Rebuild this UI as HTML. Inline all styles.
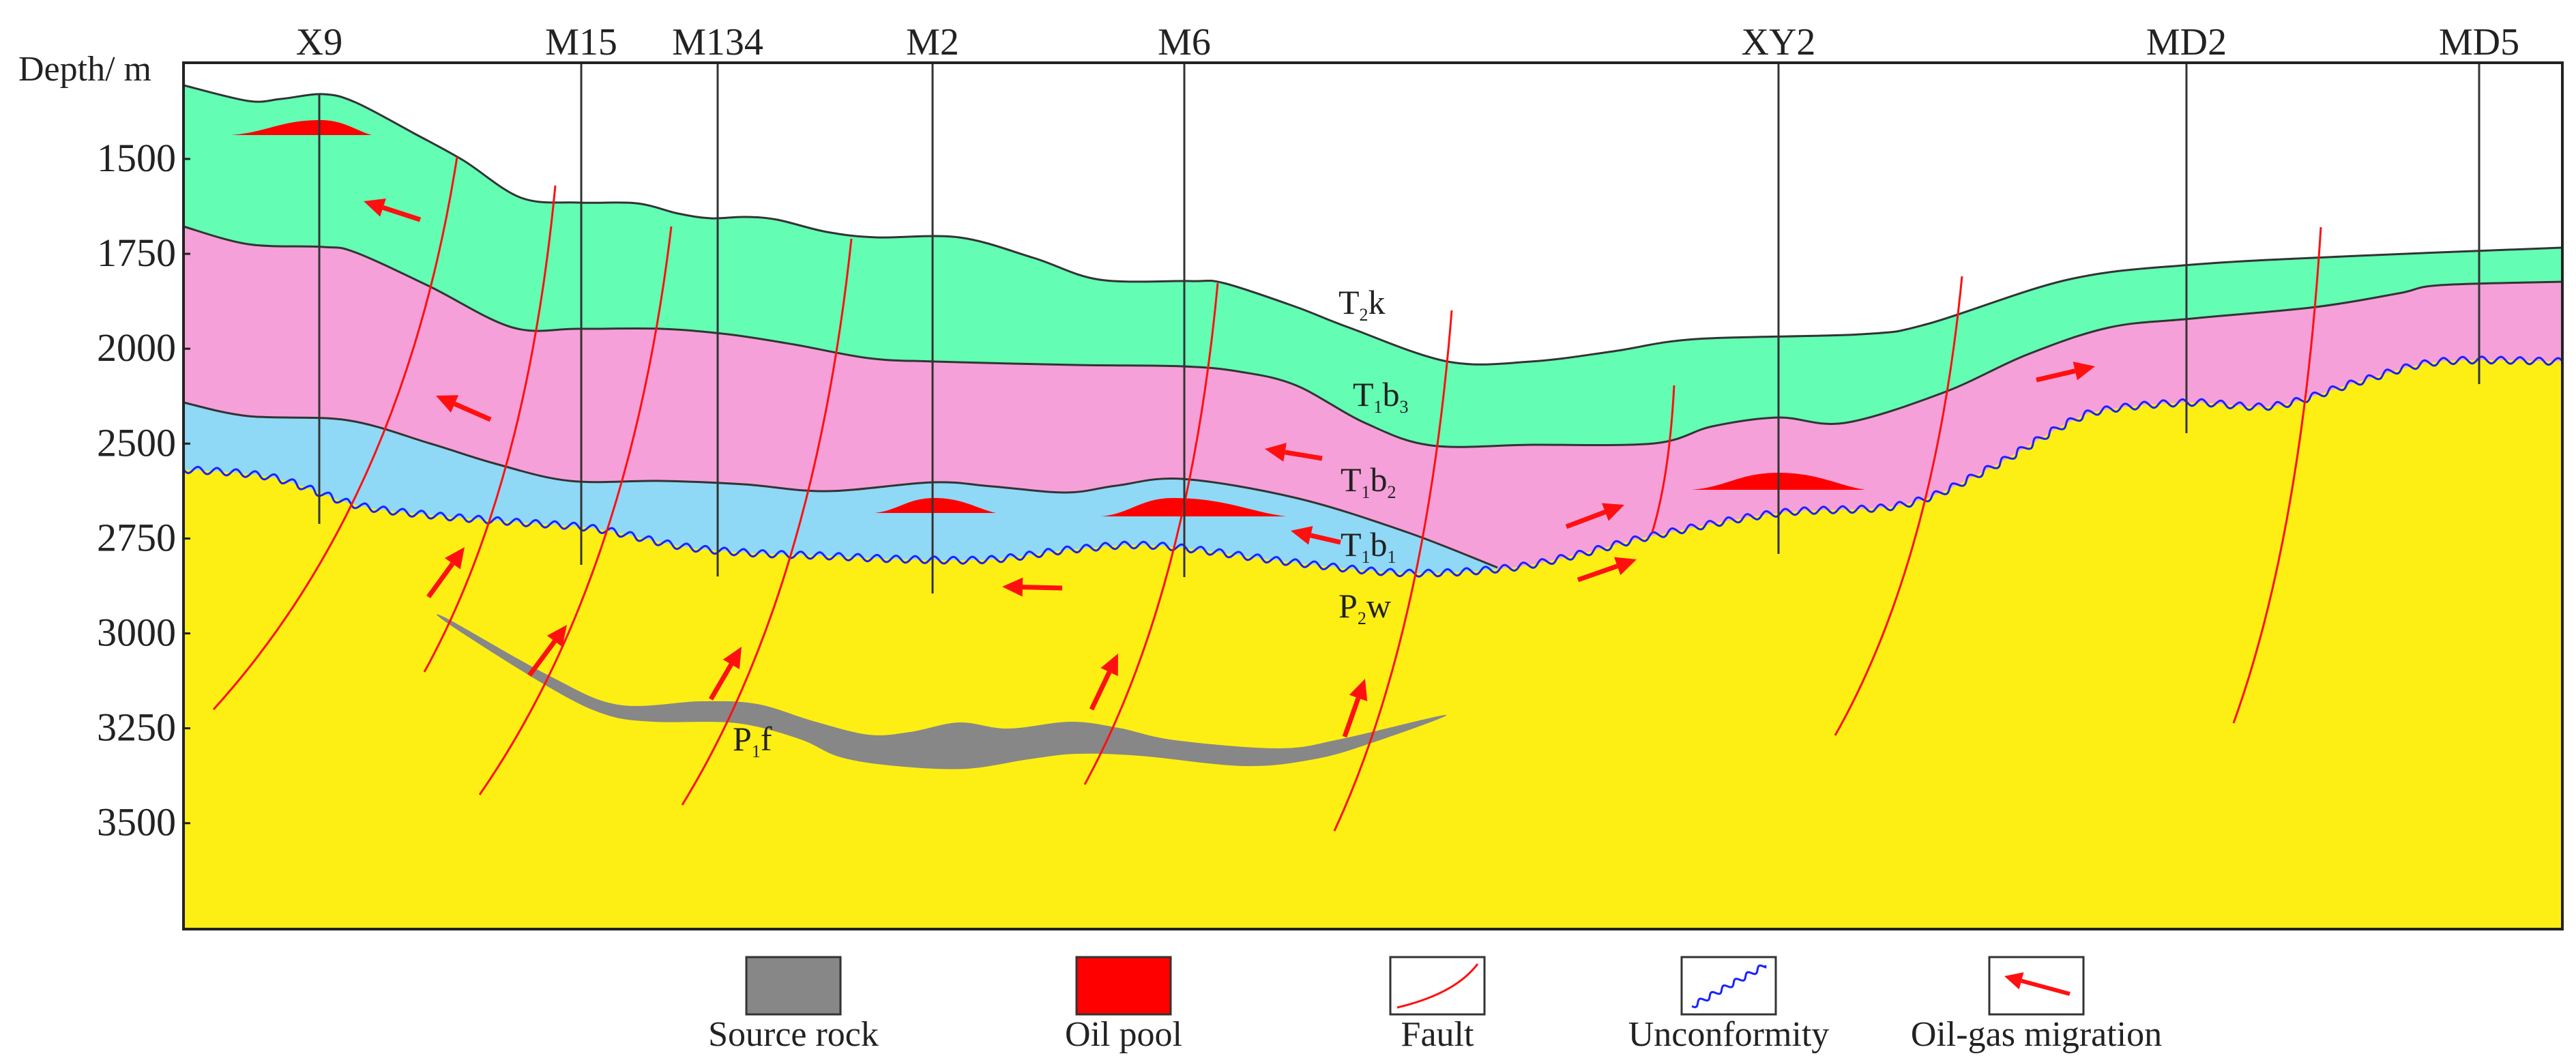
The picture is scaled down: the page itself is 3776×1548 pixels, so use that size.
<!DOCTYPE html>
<html><head><meta charset="utf-8"><style>
html,body{margin:0;padding:0;background:#fff;}
svg{display:block;}
text{font-family:"Liberation Serif",serif;fill:#222;}
</style></head><body>
<svg id="chart" xmlns="http://www.w3.org/2000/svg" width="3776" height="1548" viewBox="0 0 3776 1548">
<g id="layers"></g>
<g id="marks"></g>
<rect x="269" y="92" width="3487" height="1270" fill="none" stroke="#222" stroke-width="4"/>
<g id="axis"></g>
<g id="legend"></g>
</svg>
<script>
const depthTicks = ["1500","1750","2000","2500","2750","3000","3250","3500"];
const wellNames = ["X9","M15","M134","M2","M6","XY2","MD2","MD5"];
const wellPos = [468,852,1052,1367,1736,2607,3205,3634];
const wellBottom = [768,828,845,870,846,812,635,563];
const wellTop = [137,92,92,92,92,92,92,92];
const topSurface = [[269,125],[364,148],[412,145],[473,138],[521,150],[606,195],[679,235],[764,290],[848,297],[933,298],[994,313],[1042,320],[1091,318],[1139,322],[1212,340],[1285,348],[1406,348],[1515,378],[1612,410],[1745,412],[1794,415],[1900,450],[1977,480],[2122,530],[2244,530],[2365,515],[2486,497],[2728,490],[2825,475],[3031,410],[3213,388],[3456,375],[3756,363]];
const t2kBase = [[269,332],[364,358],[473,362],[521,370],[630,420],[751,480],[848,482],[970,482],[1067,490],[1164,505],[1273,525],[1370,530],[1576,535],[1733,537],[1818,545],[1900,565],[2001,620],[2098,653],[2244,652],[2425,650],[2510,625],[2607,612],[2704,620],[2850,575],[2971,520],[3092,480],[3213,467],[3395,450],[3516,430],[3577,418],[3756,413]];
const t1b2Base = [[269,590],[364,610],[509,616],[630,650],[727,680],[836,705],[970,705],[1091,710],[1212,720],[1367,707],[1454,713],[1563,722],[1636,712],[1733,702],[1900,730],[2062,780],[2195,832]];
const unconformity = [[269,688],[400,700],[521,740],[630,755],[751,765],[873,775],[994,800],[1091,810],[1212,815],[1333,820],[1454,820],[1576,805],[1697,800],[1900,825],[2062,840],[2207,833],[2304,815],[2425,785],[2607,752],[2789,740],[2910,690],[3031,620],[3092,600],[3213,590],[3334,595],[3456,560],[3577,530],[3756,530]];
const sourceRock = [[656,907],[804,990],[906,1033],[1028,1028],[1110,1032],[1192,1057],[1273,1077],[1334,1073],[1406,1059],[1477,1068],[1569,1058],[1640,1067],[1722,1085],[1875,1097],[1967,1083],[2120,1048],[2008,1090],[1926,1113],[1824,1123],[1671,1108],[1579,1105],[1508,1113],[1416,1127],[1314,1123],[1232,1110],[1171,1083],[1079,1060],[957,1058],[886,1047],[804,1007],[661,917]];
const oilPools = [[339,545,470,176,198],[1282,1460,1370,730,752],[1614,1885,1720,730,757],[2480,2734,2607,693,718]];
const faults = [[670,230,313,1040],[814,272,622,985],[984,332,703,1165],[1248,350,1000,1180],[1785,415,1590,1150],[2128,455,1956,1218],[2454,565,2422,780],[2876,405,2690,1078],[3402,333,3274,1060]];
const arrows = [[616,322,533,295],[719,615,639,580],[628,875,681,802],[776,990,831,916],[1042,1025,1087,948],[1557,862,1469,860],[1600,1040,1639,958],[1938,672,1854,658],[1965,795,1892,778],[2296,772,2381,740],[2313,850,2399,820],[1971,1080,2001,995],[2985,557,3071,537]];
const formationLabels = [["T","2","k",1962,460],["T","1","b",1983,595,"3"],["T","1","b",1965,720,"2"],["T","1","b",1965,815,"1"],["P","2","w",1962,905],["P","1","f",1074,1100]];
const legendItems = ["Source rock","Oil pool","Fault","Unconformity","Oil-gas migration"];
const legendX = [1094,1578,2038,2465,2916];

const NS="http://www.w3.org/2000/svg";
const plotLeft=269, plotRight=3756, plotBottom=1362;
function yTick(i){return 233+i*139.1;}
function mk(tag,attrs,parent){const e=document.createElementNS(NS,tag);for(const k in attrs)e.setAttribute(k,attrs[k]);parent.appendChild(e);return e;}
function smooth(p,closed){
  const n=p.length;let d=`M${p[0][0]},${p[0][1]}`;
  const g=i=>closed?p[(i+n)%n]:p[Math.max(0,Math.min(n-1,i))];
  const segs=closed?n:n-1;
  for(let i=0;i<segs;i++){
    const p0=g(i-1),p1=g(i),p2=g(i+1),p3=g(i+2);
    const c1=[p1[0]+(p2[0]-p0[0])/6,p1[1]+(p2[1]-p0[1])/6];
    const c2=[p2[0]-(p3[0]-p1[0])/6,p2[1]-(p3[1]-p1[1])/6];
    d+=` C${c1[0].toFixed(1)},${c1[1].toFixed(1)} ${c2[0].toFixed(1)},${c2[1].toFixed(1)} ${p2[0]},${p2[1]}`;
  }
  return d;
}
function sample(p){ // smooth polyline samples for wavy line
  const out=[];const n=p.length;const g=i=>p[Math.max(0,Math.min(n-1,i))];
  for(let i=0;i<n-1;i++){const p0=g(i-1),p1=g(i),p2=g(i+1),p3=g(i+2);
    for(let t=0;t<1;t+=0.1){const t2=t*t,t3=t2*t;
      const f=k=>0.5*((2*p1[k])+(-p0[k]+p2[k])*t+(2*p0[k]-5*p1[k]+4*p2[k]-p3[k])*t2+(-p0[k]+3*p1[k]-3*p2[k]+p3[k])*t3);
      out.push([f(0),f(1)]);}}
  out.push(p[n-1]);return out;
}
const L=document.getElementById("layers"), M=document.getElementById("marks"), A=document.getElementById("axis"), G=document.getElementById("legend");

let el;
el=mk("path",{d:smooth(topSurface)+` L${plotRight},${plotBottom} L${plotLeft},${plotBottom} Z`,fill:"#63fdb4"},L);


el=mk("path",{d:smooth(t2kBase)+` L${plotRight},${plotBottom} L${plotLeft},${plotBottom} Z`,fill:"#f5a0d8"},L);


el=mk("path",{d:smooth(t1b2Base)+` L2195,${plotBottom} L${plotLeft},${plotBottom} Z`,fill:"#8fd8f6"},L);


el=mk("path",{d:smooth(unconformity)+` L${plotRight},${plotBottom} L${plotLeft},${plotBottom} Z`,fill:"#fdef14"},L);


[topSurface,t2kBase,t1b2Base].forEach((b,i)=>{
  const e=mk("path",{d:smooth(b),fill:"none",stroke:"#333","stroke-width":3},L);
  
  
});
function wavy(poly,amp,wl){
  let out=[],s=0;
  for(let i=0;i<poly.length-1;i++){
    const [x1,y1]=poly[i],[x2,y2]=poly[i+1];const len=Math.hypot(x2-x1,y2-y1);if(len<0.01)continue;
    const nx=-(y2-y1)/len, ny=(x2-x1)/len;
    for(let t=0;t<len;t+=2){const x=x1+(x2-x1)*t/len,y=y1+(y2-y1)*t/len;const o=amp*Math.sin(2*Math.PI*(s+t)/wl);out.push([x+nx*o,y+ny*o]);}
    s+=len;
  }
  out.push(poly[poly.length-1]);return out.map(p=>p[0].toFixed(1)+","+p[1].toFixed(1)).join(" ");
}
el=mk("polyline",{points:wavy(sample(unconformity),5,28),fill:"none",stroke:"#1a22ff","stroke-width":3},L);



el=mk("path",{d:smooth(sourceRock,true)+" Z",fill:"#878787"},M);



oilPools.forEach((p,i)=>{
  const [x0,x1,xp,yt,yb]=p;
  const d=`M${x0},${yb} C${x0+(xp-x0)*0.4},${yb-4} ${xp-(xp-x0)*0.45},${yt} ${xp},${yt} C${xp+(x1-xp)*0.45},${yt} ${x1-(x1-xp)*0.3},${yb-6} ${x1},${yb} Z`;
  const e=mk("path",{d:d,fill:"#ff0000"},M);
  
  
});

faults.forEach((f,i)=>{
  const [xt,yt,xb,yb]=f;
  const cx=xt-(xt-xb)*0.22, cy=yt+(yb-yt)*0.62;
  const e=mk("path",{d:`M${xt},${yt} Q${cx},${cy} ${xb},${yb}`,fill:"none",stroke:"#ff1010","stroke-width":3},M);
  
  
});

wellNames.forEach((n,i)=>{
  const x=wellPos[i];
  const e=mk("line",{x1:x,y1:wellTop[i],x2:x,y2:wellBottom[i],stroke:"#333","stroke-width":3},M);
  
  
  const t=mk("text",{x:x,y:80,"text-anchor":"middle","font-size":56},M);
  t.textContent=n;
  
  
});

function arrow(x1,y1,x2,y2,parent,w,hl,hw){
  const dx=x2-x1,dy=y2-y1,len=Math.hypot(dx,dy),ux=dx/len,uy=dy/len,nx=-uy,ny=ux;
  const bx=x2-ux*hl,by=y2-uy*hl;
  const g=mk("g",{},parent);
  mk("line",{x1:x1,y1:y1,x2:bx,y2:by,stroke:"#ff1010","stroke-width":w},g);
  mk("polygon",{points:`${x2},${y2} ${bx+nx*hw},${by+ny*hw} ${bx-nx*hw},${by-ny*hw}`,fill:"#ff1010"},g);
  return g;
}
arrows.forEach((a,i)=>{
  const g=arrow(a[0],a[1],a[2],a[3],M,7,30,14);
  
  
});

formationLabels.forEach((f,i)=>{
  const t=mk("text",{x:f[3],y:f[4],"font-size":50},M);
  
  
  const s1=mk("tspan",{},t);s1.textContent=f[0];
  const s2=mk("tspan",{"font-size":26,dy:10},t);s2.textContent=f[1];
  const s3=mk("tspan",{dy:-10},t);s3.textContent=f[2];
  if(f[5]){const s4=mk("tspan",{"font-size":26,dy:10},t);s4.textContent=f[5];}
});

let dl=mk("text",{x:27,y:118,"font-size":52},A);
dl.textContent="Depth/ m";


depthTicks.forEach((v,i)=>{
  const y=yTick(i);
  const t=mk("text",{x:258,y:y+18,"text-anchor":"end","font-size":58},A);
  t.textContent=v;
  
  
  const l=mk("line",{x1:plotLeft,y1:y,x2:plotLeft+10,y2:y,stroke:"#222","stroke-width":3},A);
  
  
});

legendItems.forEach((n,i)=>{
  const x=legendX[i], y=1403, w=138, h=84;
  const g=mk("g",{},G);
  
  
  let fill="#fff";
  if(i===0)fill="#878787"; if(i===1)fill="#ff0000";
  mk("rect",{x:x,y:y,width:w,height:h,fill:fill,stroke:"#333","stroke-width":3},g);
  if(i===2)mk("path",{d:`M${x+10},${y+h-10} Q${x+95},${y+h-30} ${x+w-10},${y+10}`,fill:"none",stroke:"#ff1010","stroke-width":3},g);
  if(i===3)mk("polyline",{points:wavy([[x+15,y+h-12],[x+w-15,y+12]],4,20),fill:"none",stroke:"#1a22ff","stroke-width":3},g);
  if(i===4)arrow(x+w-20,y+h-30,x+22,y+28,g,6,26,13);
  const t=mk("text",{x:x+w/2,y:1533,"text-anchor":"middle","font-size":52},g);
  t.textContent=n;
});
</script>
</body></html>
